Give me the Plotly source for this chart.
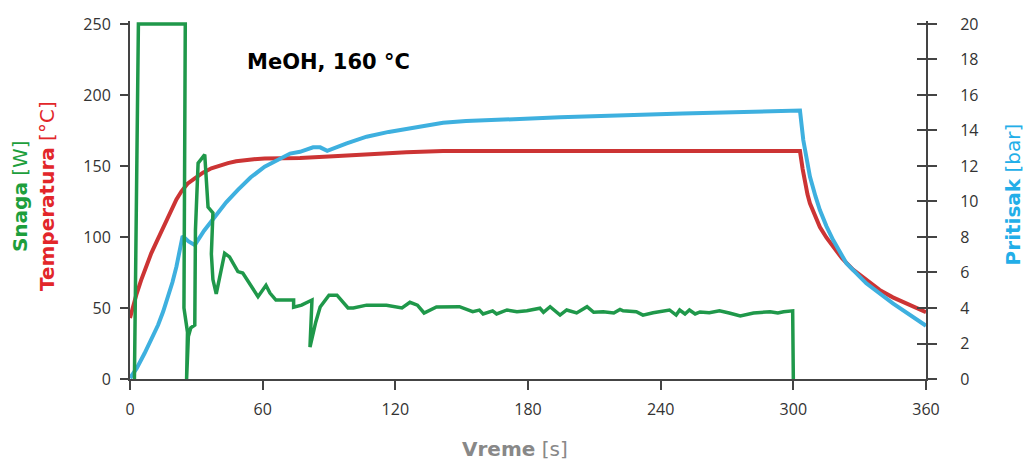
import plotly.graph_objects as go

# ---- data ----
time_power = [2.0, 3.8, 25.0, 24.4, 26.0, 25.6, 26.4, 27.5, 29.3, 29.6,
              30.8, 33.8, 35.3, 37.5, 36.8, 37.5, 39.0, 42.8, 45.0, 48.8,
              51.0, 55.7, 57.9, 61.5, 63.3, 66.0, 74.0, 74.0, 77.6, 82.3,
              81.4, 84.0, 86.0, 90.0, 93.6, 98.6, 101.0, 107.0, 116.0, 123.0,
              126.6, 130.0, 133.0, 138.6, 141.6, 149.0, 155.0, 158.0, 159.7, 164.0,
              165.8, 170.5, 175.0, 179.5, 185.4, 187.0, 190.0, 194.5, 197.5, 202.0,
              206.7, 209.7, 214.0, 218.8, 221.6, 223.0, 229.0, 232.0, 236.6, 244.0,
              247.0, 248.6, 251.0, 253.0, 255.6, 257.8, 262.0, 266.6, 271.0, 276.0,
              282.0, 289.5, 293.0, 295.6, 299.7, 300.0]
power_w = [0, 250, 250, 50, 33, 0, 30, 36, 38, 105,
           152, 158, 121, 117, 88, 70, 60, 88.5, 86, 75.6,
           74.6, 62.7, 58, 66, 60.5, 55.6, 55.6, 50.5, 52, 55.6,
           22.5, 40, 50.7, 59, 59, 50, 50, 52, 52, 50,
           54, 52, 46.5, 50.7, 50.9, 50.9, 47.4, 48.5, 45.8, 48,
           45.8, 48.6, 47.4, 48, 49.8, 47, 50.9, 45, 48.6, 46.5,
           50.9, 47, 47.4, 46.5, 49, 48, 47.4, 45, 46.7, 48.6,
           45, 48.6, 45.8, 48.6, 45.8, 47.2, 46.7, 48, 46.5, 44.4,
           46.5, 47.4, 46.5, 47.4, 48, 0]

time_temp = [0, 1.5, 3, 5, 7.3, 9.6, 12, 14.2, 16.5, 18.7,
             21, 23.2, 26, 29.3, 33, 36.8, 40.5, 44.3, 48, 51.9,
             56, 60.9, 76.9, 92, 107, 125, 141.6, 303, 304.2, 305.3,
             306.4, 307.5, 310, 312, 315, 318, 322, 327, 333, 339,
             345, 351.4, 360]
temp_c = [43, 52, 60, 69.5, 79.5, 88.5, 96.5, 103.7, 112, 120,
          126.5, 132, 137.5, 141.3, 145.3, 148.4, 150.5, 152, 153.3, 154.2,
          154.8, 155.2, 155.6, 156.8, 158.3, 159.6, 160.5, 160.5, 148, 137.8,
          130, 123.7, 113.5, 107, 99.5, 93, 85, 77, 69.5, 62.7,
          57.5, 53.3, 47]

time_pressure = [0, 3, 6.6, 9.6, 12.7, 15, 17.2, 19.2, 21, 22.2,
                 23.2, 23.8, 26.5, 29.3, 33.5, 38.3, 43.5, 48.8, 54.5, 60.9,
                 66.5, 72.4, 76.9, 82.8, 86, 89.2, 98, 107, 117, 126.6,
                 134, 141.6, 152, 194.5, 250, 285, 303, 304.5, 307.5, 310,
                 312, 315, 318, 324, 333, 345, 360]
pressure_bar = [0.05, 0.6, 1.45, 2.2, 3.04, 3.8, 4.64, 5.45, 6.33, 7.1,
                7.93, 8.05, 7.75, 7.55, 8.35, 9.14, 9.95, 10.65, 11.35, 11.96,
                12.35, 12.7, 12.8, 13.05, 13.05, 12.85, 13.27, 13.65, 13.92, 14.12,
                14.3, 14.44, 14.53, 14.74, 14.95, 15.04, 15.12, 13.46, 11.4, 10.3,
                9.52, 8.6, 7.83, 6.52, 5.39, 4.26, 3.0]

x_ticks = [0, 60, 120, 180, 240, 300, 360]
left_ticks = [0, 50, 100, 150, 200, 250]
right_ticks = [0, 2, 4, 6, 8, 10, 12, 14, 16, 18, 20]

LEFT_MAX = 252.1
RIGHT_MAX = LEFT_MAX / 12.5

GREEN = "#1f984a"
RED = "#cc3434"
BLUE = "#3eb0df"
AXC = "#444444"
TICKFONT = dict(family="Open Sans", size=16, color="#333333")

fig = go.Figure()
fig.add_trace(go.Scatter(x=time_temp, y=temp_c, mode="lines", yaxis="y",
                         line=dict(color=RED, width=4), hoverinfo="skip"))
fig.add_trace(go.Scatter(x=time_pressure, y=pressure_bar, mode="lines", yaxis="y2",
                         line=dict(color=BLUE, width=4), hoverinfo="skip"))
fig.add_trace(go.Scatter(x=[None], y=[None], mode="lines", yaxis="y3",
                         hoverinfo="skip"))
fig.add_trace(go.Scatter(x=time_power, y=power_w, mode="lines", yaxis="y4",
                         line=dict(color=GREEN, width=3.5), hoverinfo="skip"))

fig.update_layout(
    width=1027, height=462,
    margin=dict(l=130, r=101, t=21, b=83),
    paper_bgcolor="white", plot_bgcolor="white",
    showlegend=False,
    xaxis=dict(range=[0, 360], tickvals=x_ticks, ticks="outside", ticklen=9,
               tickwidth=2, tickcolor=AXC, showline=True, linecolor=AXC, linewidth=2,
               showgrid=False, zeroline=False, tickfont=TICKFONT,
               ticklabelstandoff=6),
    yaxis=dict(range=[0, LEFT_MAX], tickvals=left_ticks, ticks="outside", ticklen=8,
               tickwidth=2, tickcolor=AXC, showline=True, linecolor=AXC, linewidth=2,
               showgrid=False, zeroline=False, tickfont=TICKFONT,
               ticklabelstandoff=6),
    yaxis2=dict(range=[0, RIGHT_MAX], tickvals=right_ticks, ticks="outside", ticklen=9,
                tickwidth=2, tickcolor=AXC, showline=True, linecolor=AXC, linewidth=2,
                showgrid=False, zeroline=False, tickfont=TICKFONT, side="right",
                overlaying="y", anchor="x", ticklabelstandoff=20),
    yaxis3=dict(range=[0, RIGHT_MAX], tickvals=right_ticks, ticks="inside", ticklen=9,
                tickwidth=2, tickcolor=AXC, showline=False, showticklabels=False,
                showgrid=False, zeroline=False, side="right",
                overlaying="y", anchor="x"),
    yaxis4=dict(range=[0, LEFT_MAX], visible=False, overlaying="y", anchor="x"),
)

fig.add_annotation(text="<b>MeOH, 160 °C</b>", xref="paper", yref="paper",
                   x=0.249, y=0.885, xanchor="center", yanchor="middle",
                   showarrow=False, font=dict(family="DejaVu Sans", size=21, color="black"))
fig.add_annotation(text="<b>Snaga</b> [W]", xref="paper", yref="paper",
                   x=-0.1382, y=0.511, xanchor="center", yanchor="middle", textangle=-90,
                   showarrow=False, font=dict(family="DejaVu Sans", size=20, color="#1d9e3c"))
fig.add_annotation(text="<b>Temperatura</b> [°C]", xref="paper", yref="paper",
                   x=-0.1043, y=0.511, xanchor="center", yanchor="middle", textangle=-90,
                   showarrow=False, font=dict(family="DejaVu Sans", size=20, color="#e2262a"))
fig.add_annotation(text="<b>Pritisak</b> [bar]", xref="paper", yref="paper",
                   x=1.109, y=0.515, xanchor="center", yanchor="middle", textangle=-90,
                   showarrow=False, font=dict(family="DejaVu Sans", size=20, color="#22aee8"))
fig.add_annotation(text="<b>Vreme</b> [s]", xref="paper", yref="paper",
                   x=0.4837, y=-0.1955, xanchor="center", yanchor="middle",
                   showarrow=False, font=dict(family="DejaVu Sans", size=20, color="#888888"))

fig.write_html("out.html", config={"displayModeBar": False},
               post_script="document.body.style.margin='0';document.body.style.overflow='hidden';")
